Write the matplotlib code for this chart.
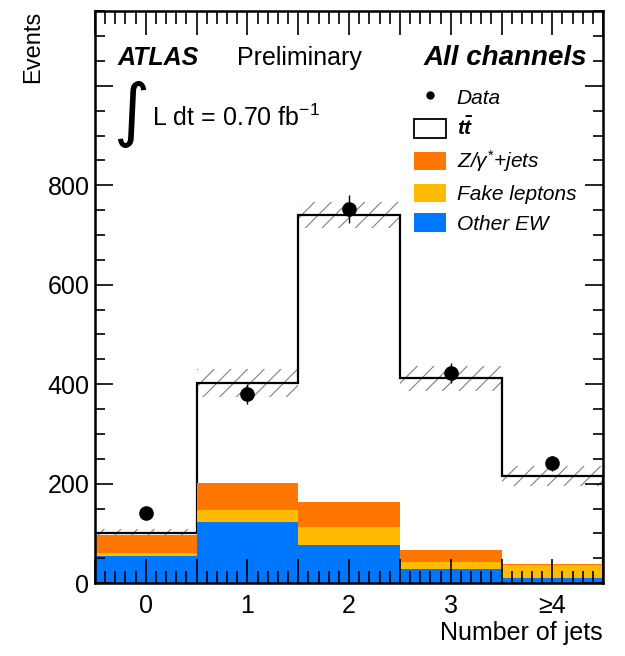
import numpy as np
import matplotlib
matplotlib.use("Agg")
import matplotlib.pyplot as plt
from matplotlib.patches import Patch
from matplotlib.lines import Line2D
from matplotlib.ticker import MultipleLocator

plt.rcParams['font.family'] = ['Liberation Sans', 'DejaVu Sans']
plt.rcParams['mathtext.fontset'] = 'custom'
plt.rcParams['mathtext.rm'] = 'Liberation Sans'
plt.rcParams['mathtext.it'] = 'Liberation Sans:italic'
plt.rcParams['mathtext.bf'] = 'Liberation Sans:bold:italic'
plt.rcParams['hatch.linewidth'] = 0.8
plt.rcParams['hatch.color'] = '#808080'

# Jet multiplicity bins
jet_labels = ['0', '1', '2', '3', '≥4']

# Stacked background expectations per bin
other_ew = [55, 124, 76, 29.5, 11]
fake_leptons = [5, 23, 36, 13.5, 25]
z_jets = [37, 54, 51, 23, 2]
ttbar = [4, 201, 577, 346, 178]

# Uncertainty on the total expectation
total_unc = [8, 28, 26, 25, 20]

# Observed events
data = [142, 380, 752, 423, 241]

col_other = '#0077FF'
col_fake = '#FFBB00'
col_z = '#FF7700'

fig = plt.figure(figsize=(6.25, 6.56), dpi=100)
ax = fig.add_axes([0.152, 0.111, 0.813, 0.872])

n = len(jet_labels)
edges = np.arange(n + 1) - 0.5
centers = np.arange(n)

other_ew = np.array(other_ew, float)
fake_leptons = np.array(fake_leptons, float)
z_jets = np.array(z_jets, float)
ttbar = np.array(ttbar, float)
total_unc = np.array(total_unc, float)
data = np.array(data, float)

s1 = other_ew
s2 = s1 + fake_leptons
s3 = s2 + z_jets
total = s3 + ttbar

# ttbar on top: white fill with black outline
ax.stairs(total, edges, baseline=0, fill=True, facecolor='white',
          edgecolor='none', zorder=1)

# hatched uncertainty band
ax.stairs(total + total_unc, edges, baseline=total - total_unc, fill=True,
          facecolor='none', edgecolor='#808080', hatch='//', linewidth=0,
          zorder=2)

ax.stairs(total, edges, baseline=0, fill=False, edgecolor='black',
          linewidth=1.6, zorder=3)

# coloured background stack
ax.stairs(s3, edges, baseline=s2, fill=True, color=col_z, linewidth=0, zorder=4)
ax.stairs(s2, edges, baseline=s1, fill=True, color=col_fake, linewidth=0, zorder=4)
ax.stairs(s1, edges, baseline=0, fill=True, color=col_other, linewidth=0, zorder=4)

# data with statistical errors
ax.errorbar(centers, data, yerr=np.sqrt(data), fmt='o', color='black',
            ms=9.5, elinewidth=1.0, capsize=0, zorder=6)

ax.set_xlim(edges[0], edges[-1])
ax.set_ylim(0, 1150)

ax.xaxis.set_minor_locator(MultipleLocator(0.1))
ax.yaxis.set_minor_locator(MultipleLocator(50))

xpos = np.arange(-0.5, n, 0.5)
ax.set_xticks(xpos)
ax.set_xticklabels([jet_labels[int(t)] if float(t).is_integer() else '' for t in xpos])
ax.set_yticks([0, 200, 400, 600, 800, 1000])
ax.set_yticklabels(['0', '200', '400', '600', '800', ''])

ax.tick_params(axis='both', which='both', direction='in', top=True, right=True,
               width=1.2, labelsize=18)
ax.tick_params(axis='x', which='major', length=17, pad=8)
ax.tick_params(axis='x', which='minor', length=9)
ax.tick_params(axis='y', which='major', length=13, pad=4)
ax.tick_params(axis='y', which='minor', length=7)
for sp in ax.spines.values():
    sp.set_linewidth(1.8)
    sp.set_zorder(8)
ax.xaxis.set_zorder(7)
ax.yaxis.set_zorder(7)

ax.set_xlabel('Number of jets', fontsize=18, loc='right', labelpad=2)
ax.set_ylabel('Events', fontsize=17, loc='top')
ax.yaxis.set_label_coords(-0.10, 1.0)

# headline texts
ax.text(0.045, 0.918, 'ATLAS', transform=ax.transAxes, fontsize=18,
        fontweight='bold', fontstyle='italic', va='center', ha='left')
ax.text(0.28, 0.918, 'Preliminary', transform=ax.transAxes, fontsize=18,
        va='center', ha='left')
ax.text(0.968, 0.918, 'All channels', transform=ax.transAxes, fontsize=20,
        fontweight='bold', fontstyle='italic', va='center', ha='right')
ax.text(0.072, 0.82, '∫', transform=ax.transAxes, fontsize=50,
        family='DejaVu Sans', va='center', ha='center')
ax.text(0.112, 0.813, r'L dt = 0.70 fb$^{-1}$', transform=ax.transAxes,
        fontsize=18, va='center', ha='left')

handles = [
    Line2D([], [], marker='o', color='black', linestyle='none', markersize=5),
    Patch(facecolor='white', edgecolor='black', linewidth=1.3),
    Patch(facecolor=col_z, edgecolor='none'),
    Patch(facecolor=col_fake, edgecolor='none'),
    Patch(facecolor=col_other, edgecolor='none'),
]
labels = ['Data', r'$\mathbf{t\bar{t}}$', r'Z/$\gamma^{*}$+jets', 'Fake leptons', 'Other EW']
leg = ax.legend(handles, labels, loc='upper left', bbox_to_anchor=(0.628, 0.867),
                frameon=False, prop={'size': 15, 'style': 'italic'},
                handlelength=1.55, handleheight=1.0, handletextpad=0.5,
                labelspacing=0.44, borderpad=0, borderaxespad=0)
leg.set_zorder(9)

fig.savefig('out.png', dpi=100)
